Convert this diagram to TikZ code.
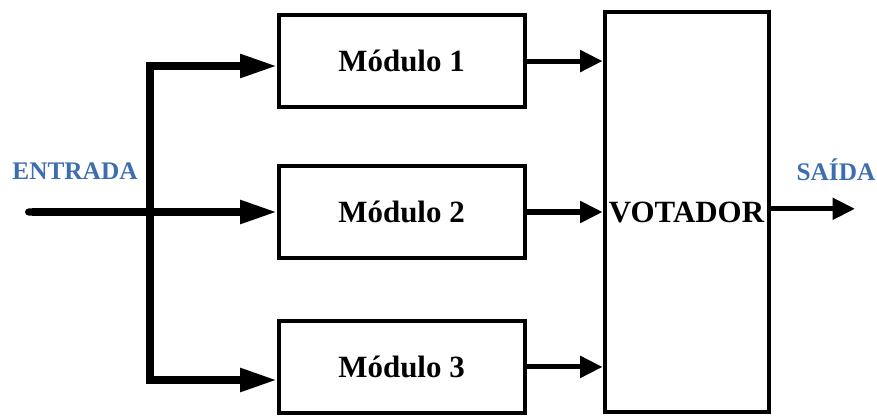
\documentclass[tikz,border=0pt]{standalone}
\usepackage{fontspec}
\setmainfont{Liberation Serif}
\usetikzlibrary{arrows.meta,positioning}
\definecolor{labelblue}{RGB}{61,110,176}
\tikzset{
    %Define style for module boxes
    modbox/.style={
           rectangle,
           draw=black, line width=2.8pt,
           minimum width=6.15cm,
           minimum height=2.3cm,
           font=\fontsize{22}{26}\selectfont\bfseries,
           text centered},
    %Define style for the voter box
    votbox/.style={
           rectangle,
           draw=black, line width=2.8pt,
           minimum width=4.1cm,
           minimum height=10cm,
           inner sep=0pt,
           font=\fontsize{22}{26}\selectfont\bfseries},
    % Define arrow styles
    feed/.style={
           -{Triangle[length=26pt,width=16pt]},
           line width=5pt},
    result/.style={
           -{Triangle[length=16pt,width=15pt]},
           line width=3.6pt},
    sig/.style={
           text=labelblue,
           font=\fontsize{18}{22}\selectfont\bfseries}
}
\begin{document}
\begin{tikzpicture}
 \useasboundingbox (0,0) rectangle (21.925,-10.475);
 %nodes
    \node[modbox] (mod2) at (10.04,-5.3) {Módulo 2};
    \node[modbox, above=1.375cm of mod2] (mod1) {Módulo 1};
    \node[modbox, below=1.475cm of mod2] (mod3) {Módulo 3};
    \node[votbox, right=1.9cm of mod2] (vot) {VOTADOR};
    \node[sig] (entrada) at (1.875,-4.28) {ENTRADA};
    \node[sig] (saida) at (20.9,-4.25) {SAÍDA};
 %points
    \coordinate (in) at (0.625,-5.3);
    \coordinate (split) at (3.75,-5.3);
    \coordinate (up) at (3.75,-1.65);
    \coordinate (down) at (3.75,-9.5);
    \coordinate (out) at (21.375,-5.22);
 %edges
    \draw[feed, {Round Cap}-{Triangle[length=26pt,width=16pt]}] (in) -- (mod2);
    \draw[feed] (split) -- (up) -- (up -| mod1.west);
    \draw[feed] (split) -- (down) -- (down -| mod3.west);
    \draw[result] (mod1) -- (mod1 -| vot.west);
    \draw[result] (mod2) -- (mod2 -| vot.west);
    \draw[result] (mod3) -- (mod3 -| vot.west);
    \draw[result] (vot.east |- out) -- (out);
\end{tikzpicture}
\end{document}
